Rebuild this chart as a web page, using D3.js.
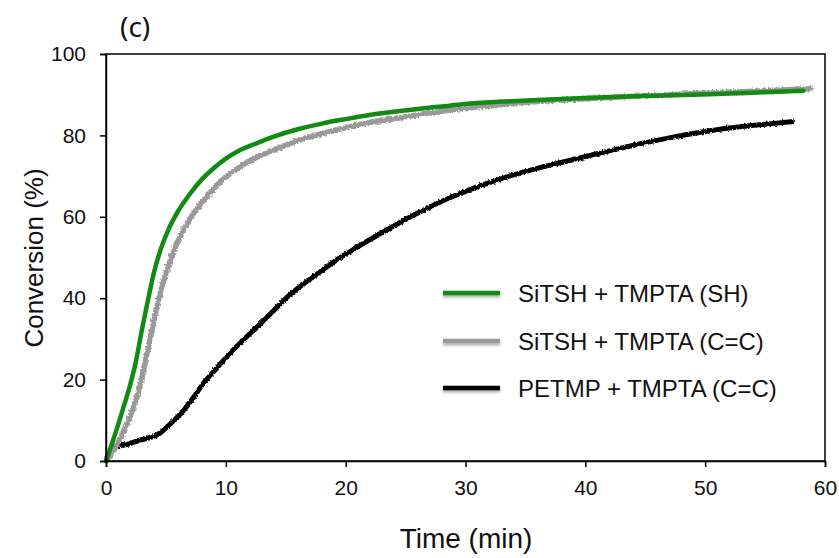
<!DOCTYPE html>
<html>
<head>
<meta charset="utf-8">
<script src="https://cdn.jsdelivr.net/npm/d3@7"></script>
<style>
  html, body { margin: 0; padding: 0; background: #fff; }
  svg { display: block; }
</style>
</head>
<body>
<svg id="chart" width="839" height="558"></svg>
<script>
// ---- data ----
const seriesNames = ["SiTSH + TMPTA (SH)", "SiTSH + TMPTA (C=C)", "PETMP + TMPTA (C=C)"];
const seriesColors = ["#138a13", "#9a9a9a", "#000000"];

const greenTime = [0,0.5,1,1.5,2,2.5,3,3.5,4,4.6,5.2,6,7,8,9,10,11.2,12.5,14,16,18,20,22,24,26,28,30,33,36,40,44,48,52,55,58.2];
const greenConv = [0,4.3,8.8,13.6,18.5,24.5,32.3,39.5,46.3,52.3,56.8,61.3,65.6,69.2,72,74.3,76.4,78,79.7,81.5,82.9,84,85,85.8,86.5,87.1,87.7,88.3,88.7,89.2,89.6,89.9,90.3,90.6,91.0];

const greyTime = [0,0.5,1,1.5,2,2.5,3,3.5,4,4.5,5,5.5,6,6.6,7.3,8,9,10,11.2,12.5,14,16,18,20,22,24,27,30,33,36,40,44,48,52,55,59];
const greyConv = [0,2,4.5,7.5,10.8,15,20.5,27.5,34.5,41,46,50.5,54,57.5,60.8,63.5,67,69.8,72.3,74.5,76.4,78.7,80.4,81.9,83.2,84.1,85.5,86.7,87.6,88.3,89,89.6,90.1,90.6,91,91.5];

const blackTime = [0,0.3,0.6,1,1.5,2,2.8,3.5,4.2,4.7,5.1,5.8,6.5,7.3,8.1,9,10,11.3,12.6,14,15.4,16.8,18.1,19.5,21,22.9,25.65,28.4,31.2,34,36.8,39.6,42,44.5,47,49.5,52,54.5,57.4];
const blackConv = [0,2,3.1,3.6,3.9,4.3,5.1,5.6,6.3,7.3,8.4,10.3,12.5,15.6,19,22,25.4,29.3,32.9,37,41,44.2,47,49.9,52.6,55.9,60.4,64.3,67.6,70.3,72.5,74.5,76.2,77.9,79.4,80.7,81.8,82.6,83.4];

const xTicks = [0,10,20,30,40,50,60];
const yTicks = [0,20,40,60,80,100];
const xLabel = "Time (min)";
const yLabel = "Conversion (%)";
const panelLabel = "(c)";

// ---- layout ----
const svg = d3.select("#chart");
const margin = {left: 106, right: 14, top: 54, bottom: 97};
const W = 839, H = 558;
const x = d3.scaleLinear().domain([0, 60]).range([margin.left, W - margin.right]);
const y = d3.scaleLinear().domain([0, 100]).range([H - margin.bottom, margin.top]);

const defs = svg.append("defs");
function roughFilter(id, scale, seed) {
  const f = defs.append("filter").attr("id", id)
    .attr("filterUnits", "userSpaceOnUse")
    .attr("x", 0).attr("y", 0).attr("width", W).attr("height", H);
  f.append("feTurbulence").attr("type", "fractalNoise")
    .attr("baseFrequency", "0.5 0.5").attr("numOctaves", 2).attr("seed", seed).attr("result", "noise");
  f.append("feDisplacementMap").attr("in", "SourceGraphic").attr("in2", "noise")
    .attr("scale", scale).attr("xChannelSelector", "R").attr("yChannelSelector", "G");
}
roughFilter("roughGrey", 4.5, 3);
roughFilter("roughBlack", 3, 7);
const sh = defs.append("filter").attr("id", "shadow")
  .attr("filterUnits", "userSpaceOnUse").attr("x", 0).attr("y", 0).attr("width", W).attr("height", H);
sh.append("feDropShadow").attr("dx", 0).attr("dy", 2).attr("stdDeviation", 1.5)
  .attr("flood-color", "#000").attr("flood-opacity", 0.35);

const font = "'Liberation Sans', Arial, sans-serif";

// series lines
const line = d3.line().x(d => x(d[0])).y(d => y(d[1])).curve(d3.curveMonotoneX);
const blackData = blackTime.map((t, i) => [t, blackConv[i]]);
const greyData = greyTime.map((t, i) => [t, greyConv[i]]);
const greenData = greenTime.map((t, i) => [t, greenConv[i]]);

svg.append("path").datum(blackData).attr("d", line)
  .attr("fill", "none").attr("stroke", seriesColors[2]).attr("stroke-width", 5)
  .attr("stroke-linejoin", "round").attr("filter", "url(#roughBlack)");
svg.append("path").datum(greyData).attr("d", line)
  .attr("fill", "none").attr("stroke", seriesColors[1]).attr("stroke-width", 5.5)
  .attr("stroke-linejoin", "round").attr("filter", "url(#roughGrey)");
svg.append("path").datum(greenData).attr("d", line)
  .attr("fill", "none").attr("stroke", seriesColors[0]).attr("stroke-width", 4.5)
  .attr("stroke-linejoin", "round").attr("stroke-linecap", "round");

// frame
svg.append("rect")
  .attr("x", x(0)).attr("y", y(100))
  .attr("width", x(60) - x(0)).attr("height", y(0) - y(100))
  .attr("fill", "none").attr("stroke", "#000").attr("stroke-width", 1.5);

// axes
const xAxis = svg.append("g").attr("transform", `translate(0,${y(0)})`)
  .call(d3.axisBottom(x).tickValues(xTicks).tickSize(6).tickPadding(13).tickFormat(d3.format("d")));
const yAxis = svg.append("g").attr("transform", `translate(${x(0)},0)`)
  .call(d3.axisLeft(y).tickValues(yTicks).tickSize(6).tickPadding(14).tickFormat(d3.format("d")));
[xAxis, yAxis].forEach(g => {
  g.select(".domain").attr("stroke", "#000").attr("stroke-width", 1.5);
  g.selectAll(".tick line").attr("stroke", "#000").attr("stroke-width", 1.5);
  g.selectAll(".tick text").attr("font-family", font).attr("font-size", 21).attr("fill", "#111");
});

// axis titles
svg.append("text").attr("x", 466).attr("y", 548).attr("text-anchor", "middle")
  .attr("font-family", font).attr("font-size", 28).attr("fill", "#111").text(xLabel);
svg.append("text").attr("transform", "translate(43,258) rotate(-90)").attr("text-anchor", "middle")
  .attr("font-family", font).attr("font-size", 26).attr("fill", "#111").text(yLabel);

// panel label
svg.append("text").attr("x", 120).attr("y", 37)
  .attr("font-family", "'Noto Sans', 'Open Sans', sans-serif").attr("font-size", 28).attr("fill", "#111").text(panelLabel);

// legend
const legY = [293, 341, 388];
const leg = svg.append("g");
seriesNames.forEach((name, i) => {
  leg.append("line").attr("x1", 443).attr("x2", 500).attr("y1", legY[i]).attr("y2", legY[i])
    .attr("stroke", seriesColors[i]).attr("stroke-width", 4.5).attr("filter", "url(#shadow)");
  leg.append("text").attr("x", 518).attr("y", legY[i]).attr("dy", "0.36em")
    .attr("font-family", font).attr("font-size", 24).attr("fill", "#111").text(name);
});
</script>
</body>
</html>
